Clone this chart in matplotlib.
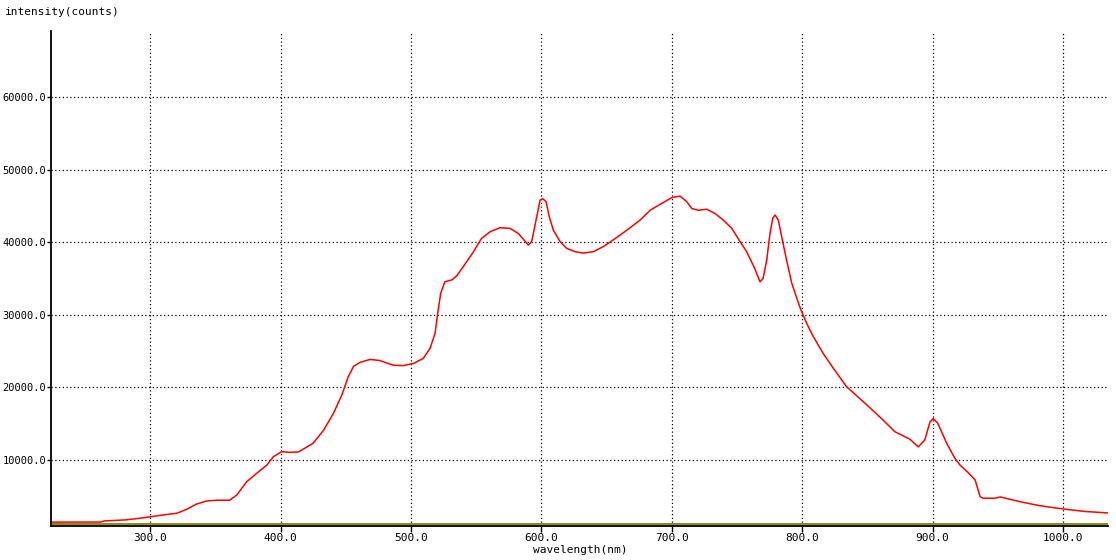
import numpy as np
import matplotlib.pyplot as plt

# spectrum
wavelength = [224, 240, 262, 265, 281, 292.3, 301.3, 310.2, 320.5, 328, 335.8,
              343.5, 351, 360.9, 366.5, 374, 381.8, 389.5, 394.5, 401, 406,
              413.7, 425, 433, 440.5, 447, 452, 456, 461, 468.7, 476, 486.5,
              494, 502, 509.5, 514.7, 518.5, 520.5, 522.8, 526, 531.3, 535,
              540, 548, 554, 560.7, 568.3, 576, 582.4, 586.7, 590, 592.6,
              596.5, 599, 601, 603.6, 606, 609.2, 614.3, 619.4, 625.8, 632,
              640, 647.5, 655, 665.5, 675.7, 683.4, 692.3, 700, 706.3, 711.4,
              715.3, 720.4, 726.8, 733.2, 739.5, 746, 752.3, 757.4, 763.8,
              767.6, 770, 772.8, 775.3, 777.4, 779.2, 781.7, 784.3, 788, 792,
              798.5, 803.5, 808.5, 816, 824, 834, 849.5, 862, 871, 882.7, 889,
              894, 898, 900.5, 904, 910.8, 917, 921, 927, 932.6, 936.4, 938.6,
              947.8, 952, 967, 982, 1000, 1017, 1034.5]
intensity = [1430, 1440, 1450, 1600, 1740, 1970, 2200, 2430, 2660, 3200, 3940,
             4350, 4450, 4450, 5180, 7000, 8170, 9300, 10450, 11150, 11050,
             11100, 12300, 14100, 16400, 18950, 21500, 22900, 23450, 23850,
             23700, 23050, 23000, 23300, 24000, 25400, 27450, 30200, 32950,
             34550, 34800, 35350, 36600, 38700, 40500, 41450, 42000, 41900,
             41200, 40300, 39600, 40100, 43550, 45800, 46000, 45600, 43550,
             41650, 40100, 39150, 38700, 38500, 38700, 39400, 40300, 41650,
             43050, 44400, 45350, 46150, 46350, 45600, 44650, 44400, 44550,
             43950, 43050, 41900, 40100, 38700, 36300, 34550, 35000, 37550,
             41200, 43300, 43750, 43050, 40750, 37550, 34350, 30900, 28800,
             27000, 24700, 22600, 20100, 17600, 15500, 13900, 12850, 11800,
             12750, 15250, 15700, 15050, 12300, 10250, 9300, 8300, 7250, 4950,
             4730, 4730, 4900, 4250, 3700, 3250, 2900, 2700]
baseline = 1190

xticks = [300, 400, 500, 600, 700, 800, 900, 1000]
yticks = [10000, 20000, 30000, 40000, 50000, 60000]

plt.rcParams['font.family'] = ['DejaVu Sans Mono']
plt.rcParams['font.size'] = 8

fig = plt.figure(figsize=(11.16, 5.6), dpi=100)
ax = fig.add_axes([51/1116, 34/560, 1057/1116, 495/560])

ax.plot(wavelength, intensity, color='red', lw=1.1)
ax.axhline(baseline, color='#808000', lw=1.3)

ax.set_xlim(224, 1034.5)
ax.set_ylim(900, 69100)
ax.set_xticks(xticks)
ax.set_xticklabels(['%.1f' % v for v in xticks])
ax.set_yticks(yticks)
ax.set_yticklabels(['%.1f' % v for v in yticks], fontsize=7.5)
ax.grid(True, color='black', linestyle=(0, (1, 2)), lw=0.9)

ax.spines['top'].set_visible(False)
ax.spines['right'].set_visible(False)
ax.spines['left'].set_linewidth(1.3)
ax.spines['bottom'].set_linewidth(1.3)
ax.tick_params(axis='x', direction='out', length=4, width=1, pad=1)
ax.tick_params(axis='y', direction='out', length=3, width=1, pad=0.5)

fig.text(5/1116, 1 - 12/560, 'intensity(counts)', ha='left', va='center')
fig.text(580/1116, 1 - 550/560, 'wavelength(nm)', ha='center', va='center')

fig.savefig('out.png', dpi=100)
